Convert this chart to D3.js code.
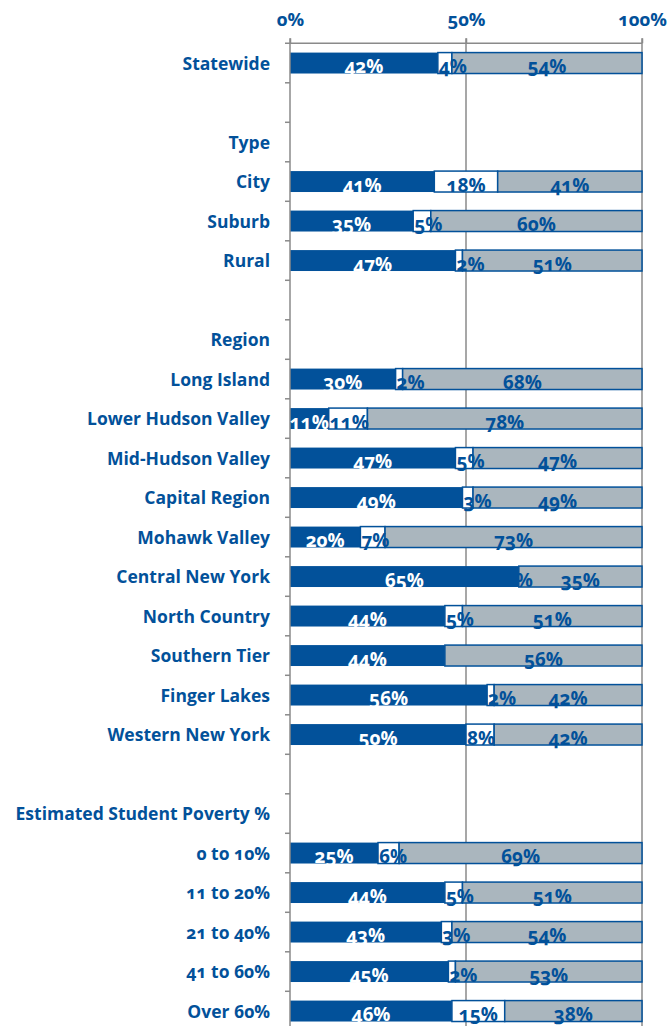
<!doctype html>
<html lang="en">
<head>
<meta charset="utf-8">
<style>
html, body {
    margin: 0;
    padding: 0;
    background: #fff;
    overflow: hidden;
}
svg text {
    font-family: "Open Sans", sans-serif;
    font-weight: 700;
    font-variant-numeric: oldstyle-nums;
}
</style>
</head>
<body>
<svg id="chart" width="667" height="1026"></svg>
<script src="https://cdn.jsdelivr.net/npm/d3@7/dist/d3.min.js"></script>
<script>
// rows, blank strings are spacer rows, headers have no bar
const rows = ['Statewide', '', 'Type', 'City', 'Suburb', 'Rural', '', 'Region',
    'Long Island', 'Lower Hudson Valley', 'Mid-Hudson Valley', 'Capital Region',
    'Mohawk Valley', 'Central New York', 'North Country', 'Southern Tier',
    'Finger Lakes', 'Western New York', '', 'Estimated Student Poverty %',
    '0 to 10%', '11 to 20%', '21 to 40%', '41 to 60%', 'Over 60%'];
const barRows = ['Statewide', 'City', 'Suburb', 'Rural', 'Long Island',
    'Lower Hudson Valley', 'Mid-Hudson Valley', 'Capital Region', 'Mohawk Valley',
    'Central New York', 'North Country', 'Southern Tier', 'Finger Lakes',
    'Western New York', '0 to 10%', '11 to 20%', '21 to 40%', '41 to 60%', 'Over 60%'];
const first  = [42, 41, 35, 47, 30, 11, 47, 49, 20, 65, 44, 44, 56, 50, 25, 44, 43, 45, 46];
const middle = [4, 18, 5, 2, 2, 11, 5, 3, 7, 0, 5, null, 2, 8, 6, 5, 3, 2, 15];
const last   = [54, 41, 60, 51, 68, 78, 47, 49, 73, 35, 51, 56, 42, 42, 69, 51, 54, 53, 38];
const xTicks = [0, 50, 100];

const blue = '#02519a', grey = '#aab6be', gridGrey = '#8a8a8a';

const svg = d3.select('#chart');
const x = d3.scaleLinear().domain([0, 100]).range([290, 642]);
const step = 39.5, top0 = 43.3;
// spacer rows share the same empty name, so key the band scale by row index
const y = d3.scaleBand().domain(d3.range(rows.length))
    .range([top0, top0 + step * rows.length])
    .paddingInner(0.47).paddingOuter(0.235);
const rowY = r => y(rows.indexOf(r));

// gridlines at 50 and 100
svg.append('g').selectAll('line').data([50, 100]).enter().append('line')
    .attr('x1', d => x(d)).attr('x2', d => x(d))
    .attr('y1', top0 - 5).attr('y2', 1026)
    .attr('stroke', gridGrey).attr('stroke-width', 1.5);

// bars
const segs = [];
barRows.forEach((r, i) => {
    const a = first[i], b = middle[i] || 0, c = last[i];
    segs.push({r, x0: 0, x1: a, fill: blue, v: a, k: 0});
    segs.push({r, x0: a, x1: a + b, fill: '#fff', v: middle[i], k: 1});
    segs.push({r, x0: a + b, x1: 100, fill: grey, v: c, k: 2});
});
svg.append('g').selectAll('rect').data(segs).enter().append('rect')
    .attr('x', d => x(d.x0))
    .attr('width', d => x(d.x1) - x(d.x0))
    .attr('y', d => rowY(d.r))
    .attr('height', y.bandwidth())
    .attr('fill', d => d.fill)
    .attr('stroke', d => d.k === 0 ? 'none' : blue)
    .attr('stroke-width', 1.5);

// top axis
const axisTop = svg.append('g').attr('transform', `translate(0,${top0})`)
    .call(d3.axisTop(x).tickValues(xTicks).tickSize(5).tickFormat(d => d + '%'));
axisTop.select('.domain').attr('d', `M285,0H${x(100)}`).attr('stroke', gridGrey).attr('stroke-width', 1.5);
axisTop.selectAll('.tick line').attr('stroke', gridGrey).attr('stroke-width', 1.5);
axisTop.selectAll('.tick text')
    .attr('y', -17)
    .attr('fill', blue)
    .style('font-size', '18.5px');

// left axis with ticks at row boundaries
const axisLeft = svg.append('g');
axisLeft.append('line').attr('x1', x(0)).attr('x2', x(0))
    .attr('y1', top0 - 5).attr('y2', 1026)
    .attr('stroke', gridGrey).attr('stroke-width', 1.5);
axisLeft.selectAll('.btick').data(d3.range(1, rows.length + 1)).enter().append('line')
    .attr('x1', x(0) - 5).attr('x2', x(0))
    .attr('y1', k => top0 + k * step).attr('y2', k => top0 + k * step)
    .attr('stroke', gridGrey).attr('stroke-width', 1.5);

// row labels
svg.append('g').selectAll('text').data(rows.map((r, i) => ({r, i})).filter(d => d.r)).enter().append('text')
    .attr('x', 270)
    .attr('y', d => y(d.i) + y.bandwidth() / 2 + 6.5)
    .attr('text-anchor', 'end')
    .attr('fill', blue)
    .style('font-size', '17.5px')
    .text(d => d.r);

// value labels
const labels = svg.append('g');
segs.filter(d => d.v !== null).forEach((d, i) => {
    const t = labels.append('text')
        .attr('y', rowY(d.r) + y.bandwidth() - 0.5)
        .attr('text-anchor', 'middle')
        .attr('fill', d.k === 0 ? '#fff' : blue)
        .style('font-size', '19px')
        .text(d.v + '%');
    const w = t.node().getComputedTextLength();
    let cx = (x(d.x0) + x(d.x1)) / 2;
    if (d.k === 1 && d.v > 0) cx = Math.max(cx, x(d.x0) + w / 2 + 1);
    t.attr('x', cx);
    if (d.k === 1) {
        const id = 'clip' + i;
        svg.append('clipPath').attr('id', id).append('rect')
            .attr('x', x(d.x0) - 1).attr('y', 0).attr('width', 400).attr('height', 1026);
        t.attr('clip-path', `url(#${id})`);
    }
});
</script>
</body>
</html>
